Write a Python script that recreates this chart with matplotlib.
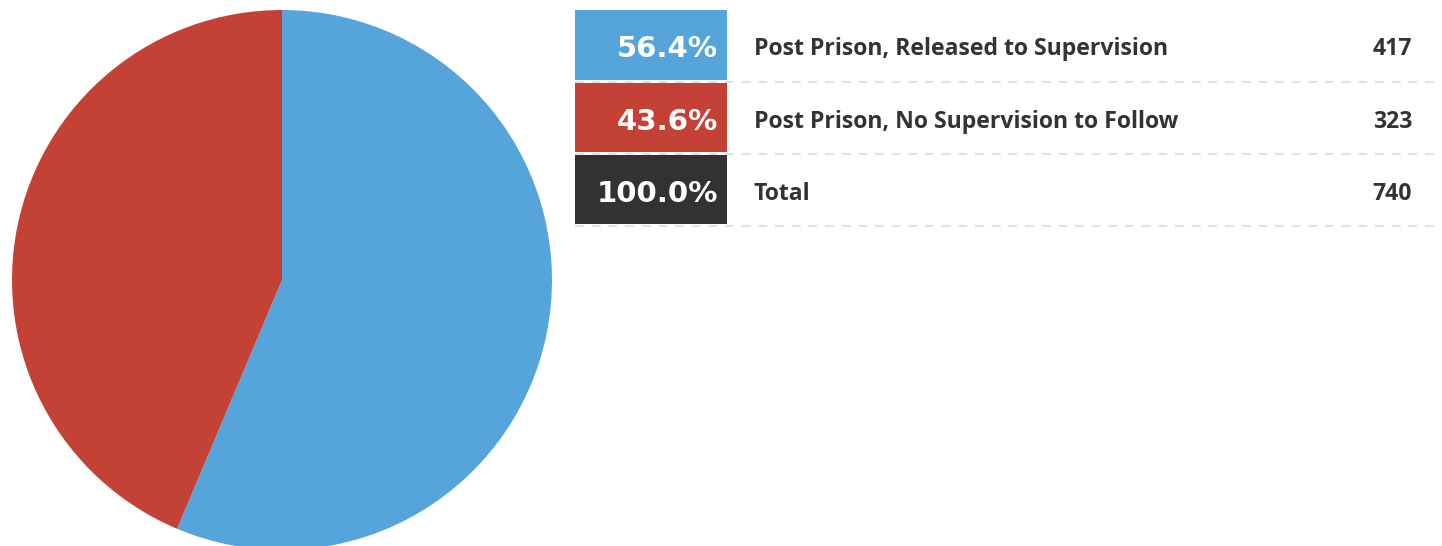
import matplotlib
matplotlib.use('Agg')
from matplotlib import pyplot as plt
from matplotlib.patches import Rectangle
from matplotlib.lines import Line2D

# release outcome counts
labels = ['Post Prison, Released to Supervision', 'Post Prison, No Supervision to Follow']
counts = [417, 323]
colors = ['#55a4db', '#c44235']
total_color = '#333132'

W, H = 1442, 546
fig = plt.figure(figsize=(W / 100, H / 100), dpi=100)
fig.patch.set_facecolor('white')

# pie, clockwise from 12 o'clock, slightly cut at the bottom edge
ax = fig.add_axes([12 / W, (546 - 550) / H, 540 / W, 540 / H])
ax.pie(counts, colors=colors, startangle=90, counterclock=False,
       wedgeprops=dict(linewidth=0))
ax.set_xlim(-1, 1)
ax.set_ylim(-1, 1)
ax.set_aspect('equal')
ax.axis('off')

total = sum(counts)
rows = [(f'{c / total * 100:.1f}%', lab, str(c), col)
        for lab, c, col in zip(labels, counts, colors)]
rows.append(('100.0%', 'Total', str(total), total_color))

def px(x, y):
    return x / W, 1 - y / H

row_top = [10, 83, 155]
row_h = [70, 69, 69]
for (pct, lab, num, col), top, h in zip(rows, row_top, row_h):
    x0, y0 = px(575, top + h)
    fig.patches.append(Rectangle((x0, y0), 152 / W, h / H, transform=fig.transFigure,
                                 facecolor=col, edgecolor='none', zorder=2))
    # dashed separator under each row
    ly = 1 - (top + h + 2) / H
    fig.lines.append(Line2D([575 / W, 1437 / W], [ly, ly], transform=fig.transFigure,
                            color='#e2e2e2', lw=1.6, ls=(0, (4, 3.5)), zorder=1))
    cy = 1 - (top + h / 2 + 4) / H
    fig.text(718 / W, cy, pct, color='white', fontsize=21, fontweight='bold',
             family='DejaVu Sans', ha='right', va='center')
    fig.text(754 / W, cy, lab, color='#333333', fontsize=16.6, fontweight='bold',
             family='Open Sans', ha='left', va='center')
    fig.text(1412 / W, cy, num, color='#333333', fontsize=16.6, fontweight='bold',
             family='Open Sans', ha='right', va='center')

fig.savefig('out.png', dpi=100, facecolor='white')
